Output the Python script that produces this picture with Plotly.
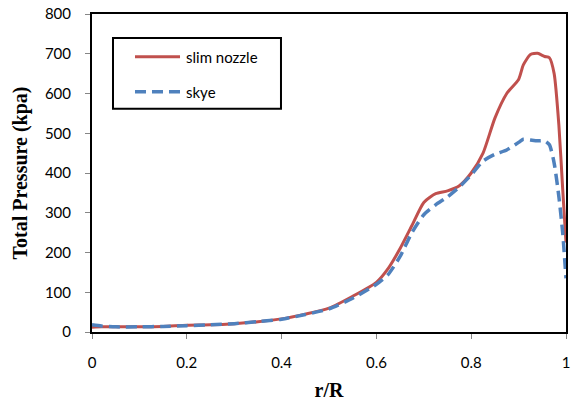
import plotly.graph_objects as go

# radial position r/R
r = [0, 0.02, 0.05, 0.1, 0.15, 0.2, 0.25, 0.3, 0.35, 0.4, 0.45, 0.5, 0.55, 0.6,
     0.625, 0.65, 0.675, 0.7, 0.725, 0.75, 0.775, 0.8, 0.825, 0.85, 0.875, 0.9,
     0.91, 0.925, 0.94, 0.955, 0.965, 0.975, 0.985, 0.993, 1.0]

# total pressure (kPa)
slim_nozzle = [12, 13, 13, 13, 14, 17, 18, 21, 26, 33, 45, 60, 90, 125,
               160, 210, 268, 326, 348, 355, 368, 400, 450, 538, 600, 635,
               672, 698, 701, 693, 690, 650, 520, 360, 225]
skye = [18, 15, 13, 13, 14, 16, 18, 21, 26, 32, 44, 58, 85, 120,
        145, 190, 250, 295, 320, 340, 365, 395, 430, 447, 458, 477,
        485, 483, 481, 481, 471, 425, 340, 250, 135]

x_ticks = [0, 0.2, 0.4, 0.6, 0.8, 1]
x_tick_text = ["0", "0.2", "0.4", "0.6", "0.8", "1"]
y_ticks = [0, 100, 200, 300, 400, 500, 600, 700, 800]

RED = "#C0504D"
BLUE = "#4F81BD"
SANS = "Lato, Carlito, 'Open Sans', sans-serif"
SERIF = "'Liberation Serif', 'Times New Roman', serif"
TICK_FONT = dict(family=SANS, size=15, color="#000000")

series = [
    ("slim nozzle", slim_nozzle, dict(color=RED, width=3)),
    ("skye", skye, dict(color=BLUE, width=3.5, dash="11px,6px")),
]

fig = go.Figure()
for name, values, style in series:
    fig.add_trace(go.Scatter(
        x=r, y=values, name=name, mode="lines",
        line=dict(shape="spline", smoothing=0.6, **style),
        showlegend=False,
    ))

# boxed key in the upper-left corner of the plot area
fig.add_shape(type="rect", xref="paper", yref="paper",
              x0=0.0443, x1=0.3987, y0=0.7022, y1=0.9248,
              line=dict(color="#000000", width=2), fillcolor="white", layer="above")
key_rows = [0.8652, 0.7555]
for (name, _, style), ky in zip(series, key_rows):
    fig.add_shape(type="line", xref="paper", yref="paper",
                  x0=0.0907, x1=0.1857, y0=ky, y1=ky,
                  line=dict(color=style["color"], width=style["width"],
                            dash=style.get("dash", "solid")),
                  layer="above")
    fig.add_annotation(xref="paper", yref="paper", x=0.1941, y=ky,
                       xanchor="left", yanchor="middle", showarrow=False,
                       text=name, font=dict(family=SANS, size=15, color="#000000"))

fig.update_layout(
    width=574, height=401,
    margin=dict(l=92, r=8, t=14, b=69),
    paper_bgcolor="white", plot_bgcolor="white",
    showlegend=False,
    xaxis=dict(
        range=[0, 1], tickvals=x_ticks, ticktext=x_tick_text,
        showgrid=False, zeroline=False, automargin=False,
        showline=True, linecolor="#000000", linewidth=2, mirror=True,
        ticks="outside", ticklen=5, tickcolor="#868686", tickwidth=1,
        ticklabelstandoff=11,
        tickfont=TICK_FONT,
        title=dict(text="<b>r/R</b>", font=dict(family=SERIF, size=20, color="#000000"),
                   standoff=16),
    ),
    yaxis=dict(
        range=[0, 800], tickvals=y_ticks,
        showgrid=False, zeroline=False, automargin=False,
        showline=True, linecolor="#000000", linewidth=2, mirror=True,
        ticks="outside", ticklen=5, tickcolor="#868686", tickwidth=1,
        ticklabelstandoff=11,
        tickfont=TICK_FONT,
        title=dict(text="<b>Total Pressure (kpa)</b>",
                   font=dict(family=SERIF, size=20, color="#000000"),
                   standoff=12),
    ),
)

fig.write_html("out.html")
